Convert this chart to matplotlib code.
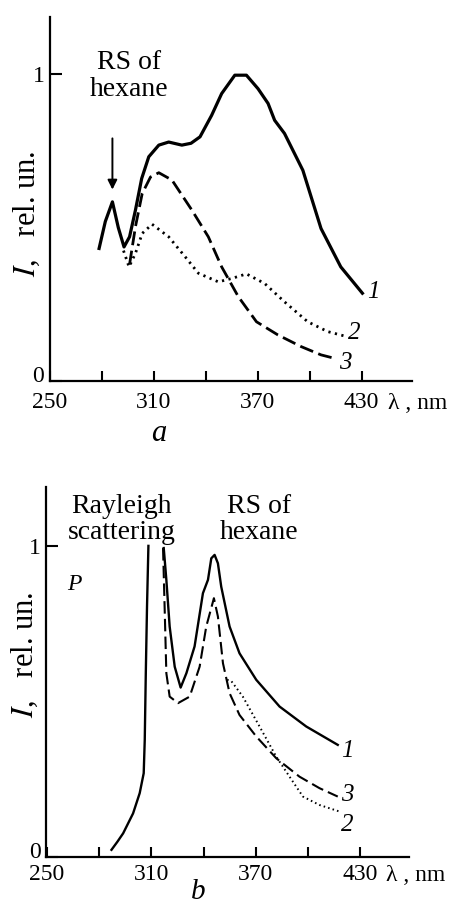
import matplotlib
matplotlib.use('Agg')
import matplotlib.pyplot as plt
import matplotlib.transforms as mtransforms

plt.rcParams['font.family'] = ['Liberation Serif', 'DejaVu Serif']
plt.rcParams['mathtext.fontset'] = 'stix'

# Panel a: fluorescence spectra, curves 1-3
a_x1 = [278.4, 282, 286.1, 289.5, 292.8, 296, 299.4, 303, 307.1, 312.9, 318.6, 326.2, 331.5,
        336.7, 343.4, 349.2, 356.8, 363.5, 370.2, 376, 379.8, 385.5, 396.1, 406.6, 418, 430.5]
a_y1 = [0.432, 0.52, 0.584, 0.50, 0.437, 0.47, 0.557, 0.66, 0.731, 0.769, 0.779, 0.769, 0.775,
        0.796, 0.866, 0.937, 0.997, 0.997, 0.953, 0.905, 0.850, 0.807, 0.687, 0.497, 0.372, 0.286]
a_x2 = [292.5, 295.7, 299.4, 303.3, 309, 318.6, 328.1, 335.8, 347.3, 354.9, 363.5, 374, 385.5,
        398.9, 410.4, 421.9]
a_y2 = [0.425, 0.372, 0.416, 0.481, 0.511, 0.470, 0.405, 0.351, 0.323, 0.334, 0.349, 0.318,
        0.258, 0.193, 0.161, 0.144]
a_x3 = [296, 299.4, 303.3, 308.1, 312.9, 320.5, 332, 341.5, 349.2, 358.8, 369.3, 381.7, 395.1,
        406.6, 414.2]
a_y3 = [0.38, 0.503, 0.611, 0.665, 0.679, 0.655, 0.557, 0.470, 0.372, 0.275, 0.193, 0.150,
        0.112, 0.085, 0.074]

# Panel b: curve 1 (Rayleigh wing + RS), curves 2 and 3
b_x1_ray = [287.1, 290.5, 293.8, 299.5, 303.3, 305.6, 306.2, 306.8, 307.5, 308.3]
b_y1_ray = [0.024, 0.05, 0.077, 0.141, 0.206, 0.270, 0.377, 0.591, 0.805, 1.0]
b_x1 = [317.1, 318.6, 320.5, 323.4, 326.8, 330.1, 334.8, 339.6, 342.5, 344.4, 346.3, 348.2,
        350.1, 354.9, 360.6, 370.2, 383.6, 398.9, 417]
b_y1 = [0.993, 0.891, 0.741, 0.612, 0.545, 0.591, 0.677, 0.848, 0.891, 0.960, 0.971, 0.944,
        0.869, 0.741, 0.655, 0.570, 0.484, 0.420, 0.361]
b_x3 = [316.7, 317.6, 318.6, 320.5, 325.3, 332, 337.7, 341.5, 345.9, 348.2, 351.1, 354.9,
        360.6, 370.2, 381.7, 395, 406.5, 417]
b_y3 = [0.993, 0.805, 0.591, 0.516, 0.495, 0.516, 0.612, 0.741, 0.832, 0.773, 0.623, 0.527,
        0.457, 0.388, 0.318, 0.259, 0.222, 0.195]
b_x2 = [353.5, 356, 362.5, 372.1, 381.7, 389.3, 397, 406.5, 418]
b_y2 = [0.57, 0.565, 0.516, 0.420, 0.323, 0.259, 0.195, 0.168, 0.147]

xticks_major = [250, 310, 370, 430]
xticks_minor = [280, 340, 400]

fig = plt.figure(figsize=(4.58, 9.07), dpi=100)


def style_axes(ax, xlim, ylim, xpad, ylab_x, ylab_y):
    ax.set_xlim(*xlim)
    ax.set_ylim(*ylim)
    for s in ['top', 'right']:
        ax.spines[s].set_visible(False)
    for s in ['left', 'bottom']:
        ax.spines[s].set_linewidth(1.6)
    ax.set_xticks(xticks_major)
    ax.set_xticks(xticks_minor, minor=True)
    ax.set_xticklabels([str(v) for v in xticks_major])
    ax.set_yticks([0, 1])
    ax.set_yticklabels(['0', '1'])
    ax.tick_params(axis='x', which='both', direction='in', length=7, width=1.5,
                   labelsize=17, pad=xpad)
    ax.tick_params(axis='y', direction='in', length=8.5, width=1.5, labelsize=17, pad=4)
    # nudge the "0" label up a little, as in the original
    zero_lab = ax.get_yticklabels()[0]
    zero_lab.set_transform(zero_lab.get_transform() +
                           mtransforms.ScaledTranslation(0, 5 / 72, fig.dpi_scale_trans))
    ax.text(0.935, -xpad / 72 * 100 / ax.bbox.height - 0.003, 'λ , nm',
            transform=ax.transAxes, fontsize=17, ha='left', va='top')
    ax.text(ylab_x, ylab_y, r'$I$,   rel. un.', transform=ax.transAxes, fontsize=22,
            rotation=90, ha='center', va='center')


# ---- panel a
ax1 = fig.add_axes([0.109, 0.580, 0.790, 0.401])
style_axes(ax1, (250.5, 459), (0, 1.186), 8, -0.064, 0.46)
ax1.plot(a_x1, a_y1, color='black', lw=2.3)
ax1.plot(a_x2, a_y2, color='black', lw=2.0, linestyle=(0, (0.8, 1.6)))
ax1.plot(a_x3, a_y3, color='black', lw=2.0, linestyle=(0, (5, 2)))
ax1.annotate('', xy=(286.1, 0.615), xytext=(286.1, 0.80),
             arrowprops=dict(arrowstyle='-|>', color='black', lw=1.4, mutation_scale=14))
ax1.text(295.5, 0.995, 'RS of\nhexane', fontsize=20, ha='center', va='center', linespacing=1.1)
ax1.text(433, 0.29, '1', fontsize=18, style='italic', ha='left', va='center')
ax1.text(422, 0.155, '2', fontsize=18, style='italic', ha='left', va='center')
ax1.text(417, 0.06, '3', fontsize=18, style='italic', ha='left', va='center')
ax1.text(0.30, -0.145, 'a', transform=ax1.transAxes, fontsize=22, style='italic',
         ha='center', va='center')

# ---- panel b
ax2 = fig.add_axes([0.1004, 0.0548, 0.793, 0.4086])
style_axes(ax2, (249.5, 458), (0, 1.19), 5, -0.058, 0.547)
ax2.plot(b_x1_ray, b_y1_ray, color='black', lw=1.7)
ax2.plot(b_x1, b_y1, color='black', lw=1.7)
ax2.plot(b_x3, b_y3, color='black', lw=1.5, linestyle=(0, (6, 2.5)))
ax2.plot(b_x2, b_y2, color='black', lw=1.4, linestyle=(0, (0.8, 1.6)))
ax2.text(293, 1.085, 'Rayleigh\nscattering', fontsize=20, ha='center', va='center',
         linespacing=1.05)
ax2.text(372, 1.085, 'RS of\nhexane', fontsize=20, ha='center', va='center', linespacing=1.05)
ax2.text(266, 0.875, 'P', fontsize=17, style='italic', ha='center', va='center')
ax2.text(419, 0.34, '1', fontsize=18, style='italic', ha='left', va='center')
ax2.text(419, 0.20, '3', fontsize=18, style='italic', ha='left', va='center')
ax2.text(419, 0.105, '2', fontsize=18, style='italic', ha='left', va='center')
ax2.text(0.42, -0.093, 'b', transform=ax2.transAxes, fontsize=21, style='italic',
         ha='center', va='center')

fig.savefig('out.png', dpi=100)
